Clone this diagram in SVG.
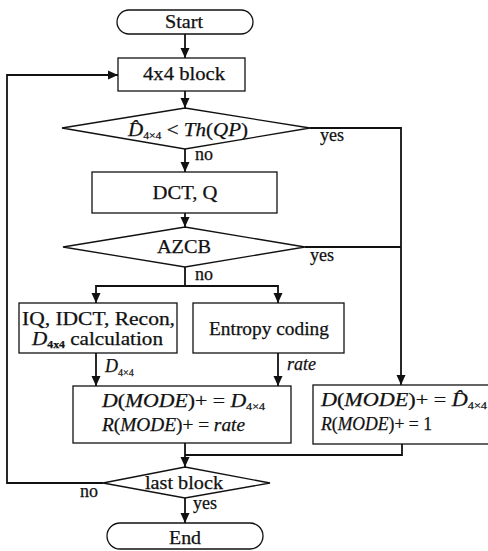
<svg xmlns="http://www.w3.org/2000/svg" width="488" height="551" viewBox="0 0 488 551">
<defs>
<marker id="ah" viewBox="0 0 10 10" refX="10" refY="5" markerWidth="10" markerHeight="10" markerUnits="userSpaceOnUse" orient="auto">
<path d="M0,0.5 L10,5 L0,9.5 z" fill="#111"/>
</marker>
<style>
.s{fill:#fff;stroke:#111;stroke-width:1.3}
.c{fill:none;stroke:#111;stroke-width:1.8}
text{font-family:"Liberation Serif","Times New Roman",serif;font-size:18px;fill:#111;stroke:#111;stroke-width:0.25}
.m{text-anchor:middle}
.i{font-style:italic}
.sub{font-size:10px;font-style:normal}
</style>
</defs>
<rect width="488" height="551" fill="#fff"/>
<g id="connectors">
<line class="c" x1="185" y1="34" x2="185" y2="58" marker-end="url(#ah)"/>
<line class="c" x1="185" y1="91" x2="185" y2="108" marker-end="url(#ah)"/>
<line class="c" x1="185" y1="149" x2="185" y2="172" marker-end="url(#ah)"/>
<line class="c" x1="185" y1="213" x2="185" y2="227" marker-end="url(#ah)"/>
<polyline class="c" points="310,128 401,128 401,385" marker-end="url(#ah)"/>
<line class="c" x1="305" y1="247" x2="401" y2="247"/>
<polyline class="c" points="185,267 185,286 96,286 96,303" marker-end="url(#ah)"/>
<polyline class="c" points="185,286 278,286 278,303" marker-end="url(#ah)"/>
<line class="c" x1="96" y1="353" x2="96" y2="386" marker-end="url(#ah)"/>
<line class="c" x1="278" y1="353" x2="278" y2="386" marker-end="url(#ah)"/>
<line class="c" x1="185" y1="443" x2="185" y2="467" marker-end="url(#ah)"/>
<polyline class="c" points="402,444 402,455 185,455"/>
<polyline class="c" points="103,483 7,483 7,75 118,75" marker-end="url(#ah)"/>
<line class="c" x1="185" y1="498" x2="185" y2="523" marker-end="url(#ah)"/>
</g>
<g id="start">
<rect class="s" x="117" y="10" width="136" height="24" rx="12"/>
<text class="m" x="184" y="28" textLength="38" lengthAdjust="spacingAndGlyphs">Start</text>
</g>
<g id="block">
<rect class="s" x="118" y="58" width="127" height="33"/>
<text class="m" x="184" y="80" textLength="82" lengthAdjust="spacingAndGlyphs">4x4 block</text>
</g>
<g id="threshold">
<polygon class="s" points="185,108 310,128 185,149 62,128"/>
<text class="m" x="188" y="136" textLength="120" lengthAdjust="spacingAndGlyphs"><tspan class="i">D̂</tspan><tspan class="sub" dy="3">4×4</tspan><tspan dy="-3"> &lt; </tspan><tspan class="i">Th</tspan>(<tspan class="i">QP</tspan>)</text>
<text x="320" y="141">yes</text>
<text x="195" y="160">no</text>
</g>
<g id="dctq">
<rect class="s" x="92" y="172" width="185" height="41"/>
<text class="m" x="185" y="199" textLength="65" lengthAdjust="spacingAndGlyphs">DCT, Q</text>
</g>
<g id="azcb">
<polygon class="s" points="185,227 305,247 185,267 63,247"/>
<text class="m" x="184" y="253" textLength="54" lengthAdjust="spacingAndGlyphs">AZCB</text>
<text x="310" y="261">yes</text>
<text x="195" y="280">no</text>
</g>
<g id="recon">
<rect class="s" x="19" y="303" width="158" height="50"/>
<text class="m" x="98.5" y="325" textLength="153" lengthAdjust="spacingAndGlyphs">IQ, IDCT, Recon,</text>
<text class="m" x="97.5" y="345" textLength="131" lengthAdjust="spacingAndGlyphs"><tspan class="i">D</tspan><tspan class="sub" dy="3" font-weight="bold">4x4</tspan><tspan dy="-3"> calculation</tspan></text>
<text x="105" y="372"><tspan class="i">D</tspan><tspan class="sub" dy="4">4×4</tspan></text>
</g>
<g id="entropy">
<rect class="s" x="193" y="303" width="151" height="50"/>
<text class="m" x="269" y="335" textLength="120" lengthAdjust="spacingAndGlyphs">Entropy coding</text>
<text class="i" x="287" y="370">rate</text>
</g>
<g id="update">
<rect class="s" x="73" y="386" width="218" height="57"/>
<text x="102" y="407" textLength="163" lengthAdjust="spacingAndGlyphs"><tspan class="i">D</tspan>(<tspan class="i">MODE</tspan>)+ = <tspan class="i">D</tspan><tspan class="sub" dy="3">4×4</tspan></text>
<text x="102" y="431" textLength="143" lengthAdjust="spacingAndGlyphs"><tspan class="i">R</tspan>(<tspan class="i">MODE</tspan>)+ = <tspan class="i">rate</tspan></text>
</g>
<g id="skip">
<rect class="s" x="313" y="385" width="180" height="59"/>
<text x="321" y="406" textLength="166" lengthAdjust="spacingAndGlyphs"><tspan class="i">D</tspan>(<tspan class="i">MODE</tspan>)+ = <tspan class="i">D̂</tspan><tspan class="sub" dy="3">4×4</tspan></text>
<text x="321" y="430" textLength="111" lengthAdjust="spacingAndGlyphs"><tspan class="i">R</tspan>(<tspan class="i">MODE</tspan>)+ = 1</text>
</g>
<g id="last">
<polygon class="s" points="185,467 270,483 185,498 103,483"/>
<text class="m" x="184" y="489" textLength="78" lengthAdjust="spacingAndGlyphs">last block</text>
<text x="80" y="497">no</text>
<text x="193" y="509">yes</text>
</g>
<g id="end">
<rect class="s" x="107" y="523" width="156" height="26" rx="13"/>
<text class="m" x="185" y="544" textLength="32" lengthAdjust="spacingAndGlyphs">End</text>
</g>
</svg>
